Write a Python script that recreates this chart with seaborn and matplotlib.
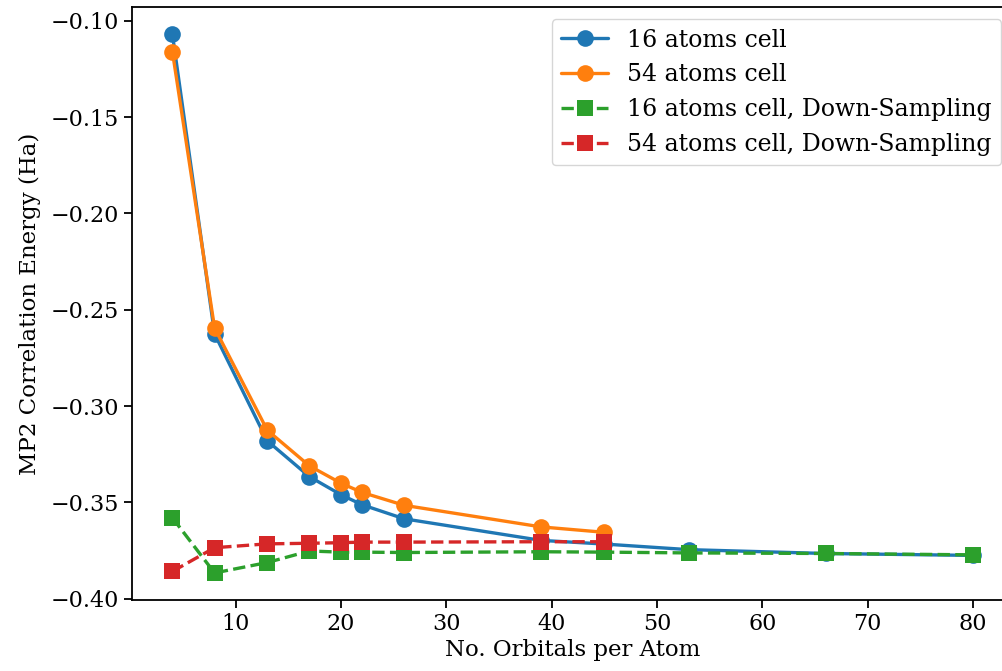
import matplotlib
matplotlib.use("Agg")
import matplotlib.pyplot as plt
import seaborn as sns
import pandas as pd

# orbitals per atom
x_16 = [4, 8, 13, 17, 20, 22, 26, 39, 45, 53, 66, 80]
x_54 = [4, 8, 13, 17, 20, 22, 26, 39, 45]

# MP2 correlation energy (Ha)
e_16 = [-0.107, -0.2625, -0.318, -0.3366, -0.346, -0.3512, -0.3585,
        -0.3697, -0.3716, -0.3745, -0.3765, -0.3775]
e_54 = [-0.116, -0.2594, -0.3125, -0.331, -0.340, -0.3448, -0.3515,
        -0.3627, -0.3655]
e_16_ds = [-0.358, -0.3866, -0.3812, -0.3752, -0.3758, -0.3758, -0.376,
           -0.3756, -0.3758, -0.3762, -0.3765, -0.3772]
e_54_ds = [-0.3858, -0.3735, -0.3715, -0.3712, -0.3709, -0.3706, -0.3706,
           -0.3704, -0.3704]

labels = ["16 atoms cell", "54 atoms cell",
          "16 atoms cell, Down-Sampling", "54 atoms cell, Down-Sampling"]

sns.set_theme(style="ticks")
plt.rcParams["font.family"] = ["DejaVu Serif"]
plt.rcParams["font.size"] = 16
plt.rcParams["axes.linewidth"] = 1.3
plt.rcParams["xtick.major.width"] = 1.3
plt.rcParams["ytick.major.width"] = 1.3
for k in ["text.color", "axes.labelcolor", "xtick.color", "ytick.color",
          "axes.edgecolor"]:
    plt.rcParams[k] = "black"

fig, ax = plt.subplots(figsize=(10.03, 6.71), dpi=100)
# the right spine sits just past the figure edge in the reference
fig.subplots_adjust(left=0.132, right=1.010, top=0.989, bottom=0.106)

series = [
    (x_16, e_16, "#1f77b4", "o", "-", 12),
    (x_54, e_54, "#ff7f0e", "o", "-", 12),
    (x_16, e_16_ds, "#2ca02c", "s", "--", 11),
    (x_54, e_54_ds, "#d62728", "s", "--", 11),
]
for (xs, ys, c, m, ls, ms), lab in zip(series, labels):
    df = pd.DataFrame({"x": xs, "y": ys})
    sns.lineplot(data=df, x="x", y="y", ax=ax, color=c, marker=m,
                 linestyle=ls, linewidth=2.4, markersize=ms,
                 markeredgewidth=0, label=lab)

ax.set_xlabel("No. Orbitals per Atom", fontsize=16.5, labelpad=3)
ax.set_ylabel("MP2 Correlation Energy (Ha)", fontsize=16.5, labelpad=7)
ax.tick_params(labelsize=16, length=6)
ax.set_xticks([10, 20, 30, 40, 50, 60, 70, 80])
ax.set_yticks([-0.10, -0.15, -0.20, -0.25, -0.30, -0.35, -0.40])
ax.set_yticklabels(["\u22120.10", "\u22120.15", "\u22120.20", "\u22120.25",
                    "\u22120.30", "\u22120.35", "\u22120.40"])
ax.legend(loc="upper right", fontsize=17, frameon=True, handlelength=2.0)

fig.savefig("out.png", dpi=100)
